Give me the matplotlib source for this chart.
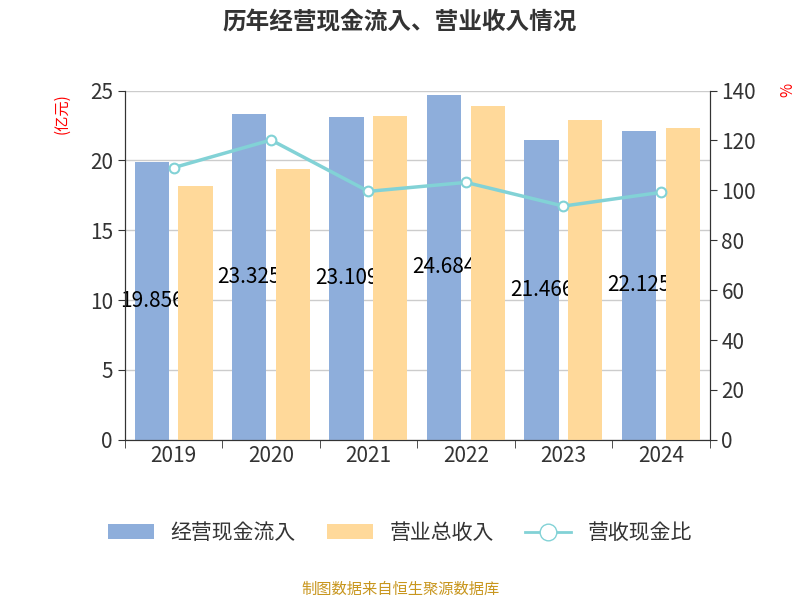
import matplotlib.pyplot as plt
from matplotlib import font_manager
from matplotlib.patches import Patch
from matplotlib.lines import Line2D
import numpy as np

# find a CJK font that actually has the glyphs
cjk = None
for f in font_manager.findSystemFonts():
    if "CJK" in f or "cjk" in f.lower():
        try:
            font_manager.fontManager.addfont(f)
            name = font_manager.FontProperties(fname=f).get_name()
            if "SC" in name or cjk is None:
                cjk = name
        except Exception:
            pass
plt.rcParams["font.family"] = [cjk or "Noto Sans CJK SC", "DejaVu Sans"]

years = ["2019", "2020", "2021", "2022", "2023", "2024"]
cash_in = [19.856, 23.325, 23.109, 24.684, 21.466, 22.125]
revenue = [18.2, 19.4, 23.2, 23.9, 22.9, 22.3]
ratio = [109.1, 120.2, 99.6, 103.2, 93.7, 99.2]

fig = plt.figure(figsize=(8, 6), dpi=100)
ax = fig.add_axes([0.156, 0.267, 0.731, 0.582])
ax2 = ax.twinx()

x = np.arange(len(years))
w = 0.35
ax.bar(x - 0.225, cash_in, w, color="#8eaedb", zorder=2)
ax.bar(x + 0.225, revenue, w, color="#ffd99a", zorder=4)
for xi, v in zip(x, cash_in):
    ax.text(xi - 0.225, v / 2, f"{v:.3f}", ha="center", va="center",
            fontsize=15, color="black", zorder=3)

ax2.plot(x, ratio, color="#82d2d6", lw=2.5, marker="o", ms=7,
         mfc="white", mec="#82d2d6", mew=1.5, zorder=5)

ax.set_xlim(-0.5, 5.5)
ax.set_ylim(0, 25)
ax.set_yticks(range(0, 26, 5))
ax2.set_ylim(0, 140)
ax2.set_yticks(range(0, 141, 20))
ax.set_xticks(x)
ax.set_xticklabels(years)
ax.grid(axis="y", color="#cccccc", lw=1, zorder=0)
ax.set_axisbelow(True)
for a in (ax, ax2):
    a.tick_params(labelsize=15, colors="#333333", length=5)
    a.spines["top"].set_visible(False)
    for s in ("left", "right", "bottom"):
        a.spines[s].set_color("#333333")
ax.set_xticks(np.arange(-0.5, 6, 1), minor=True)
ax.tick_params(axis="x", which="major", length=0)
ax.tick_params(axis="x", which="minor", length=6, color="#333333")

fig.text(0.5, 0.962, "历年经营现金流入、营业收入情况", ha="center", va="center",
         fontsize=17, fontweight="bold", color="#333333")
fig.text(0.078, 0.81, "(亿元)", rotation=90, color="red", fontsize=11, ha="center", va="center")
fig.text(0.985, 0.85, "%", rotation=90, color="red", fontsize=11, ha="center", va="center")

handles = [Patch(facecolor="#8eaedb", label="经营现金流入"),
           Patch(facecolor="#ffd99a", label="营业总收入"),
           Line2D([0], [0], color="#82d2d6", lw=2, marker="o", ms=12, mfc="white",
                  mec="#82d2d6", label="营收现金比")]
fig.legend(handles=handles, loc="center", bbox_to_anchor=(0.5, 0.112), ncol=3,
           frameon=False, fontsize=15, handlelength=2.2, columnspacing=1.5,
           labelcolor="#333333")
fig.text(0.5, 0.018, "制图数据来自恒生聚源数据库", ha="center", va="center",
         fontsize=11, color="#c8961e")

fig.savefig("out.png")
